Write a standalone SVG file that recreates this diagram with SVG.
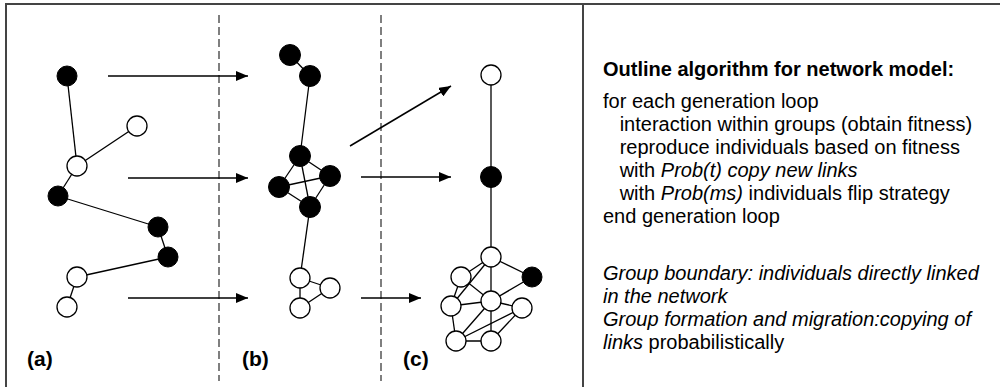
<svg xmlns="http://www.w3.org/2000/svg" width="1000" height="387" viewBox="0 0 1000 387">
<defs>
<marker id="ah" viewBox="0 0 12 10" refX="12" refY="5" markerWidth="12" markerHeight="10" markerUnits="userSpaceOnUse" orient="auto">
<path d="M0,0 L12,5 L0,10 Z" fill="#000"/>
</marker>
<style>
.frame{stroke:#444;stroke-width:2;fill:none}
.dash{stroke:#555;stroke-width:1.5;stroke-dasharray:8,4;fill:none}
.arr{stroke:#000;stroke-width:1.5;fill:none;marker-end:url(#ah)}
.e{stroke:#000;stroke-width:1.3;fill:none}
.b{fill:#000;stroke:#000;stroke-width:1}
.w{fill:#fff;stroke:#000;stroke-width:1.3}
.lab{font-family:"Liberation Sans",Arial,sans-serif;font-weight:bold;font-size:21px;fill:#000}
.t{font-family:"Liberation Sans",Arial,sans-serif;font-size:20px;fill:#000}
.tb{font-family:"Liberation Sans",Arial,sans-serif;font-size:20px;font-weight:bold;fill:#000}
</style>
</defs>
<rect width="1000" height="387" fill="#fff"/>
<g id="frame">
<path class="frame" d="M6,387 V4 H1000"/>
<line class="frame" x1="583" y1="4" x2="583" y2="387"/>
<line class="dash" x1="219" y1="15" x2="219" y2="381"/>
<line class="dash" x1="381" y1="15" x2="381" y2="381"/>
</g>
<g id="connectors">
<line class="e" x1="67" y1="76" x2="77" y2="166"/>
<line class="e" x1="137" y1="126" x2="77" y2="166"/>
<line class="e" x1="77" y1="166" x2="58" y2="196"/>
<line class="e" x1="58" y1="196" x2="158" y2="227"/>
<line class="e" x1="158" y1="227" x2="168" y2="257"/>
<line class="e" x1="168" y1="257" x2="77" y2="277"/>
<line class="e" x1="77" y1="277" x2="67" y2="307"/>
<line class="e" x1="290" y1="55" x2="310" y2="76"/>
<line class="e" x1="310" y1="76" x2="300" y2="156"/>
<line class="e" x1="300" y1="156" x2="330" y2="176"/>
<line class="e" x1="300" y1="156" x2="279" y2="187"/>
<line class="e" x1="300" y1="156" x2="310" y2="207"/>
<line class="e" x1="279" y1="187" x2="330" y2="176"/>
<line class="e" x1="279" y1="187" x2="310" y2="207"/>
<line class="e" x1="330" y1="176" x2="310" y2="207"/>
<line class="e" x1="310" y1="207" x2="300" y2="278"/>
<line class="e" x1="300" y1="278" x2="330" y2="288"/>
<line class="e" x1="300" y1="278" x2="300" y2="308"/>
<line class="e" x1="300" y1="308" x2="330" y2="288"/>
<line class="e" x1="491" y1="75" x2="491" y2="341"/>
<line class="e" x1="491" y1="257" x2="461" y2="277"/>
<line class="e" x1="491" y1="257" x2="532" y2="277"/>
<line class="e" x1="491" y1="257" x2="451" y2="306"/>
<line class="e" x1="461" y1="277" x2="451" y2="306"/>
<line class="e" x1="461" y1="277" x2="491" y2="301"/>
<line class="e" x1="532" y1="277" x2="491" y2="301"/>
<line class="e" x1="451" y1="306" x2="491" y2="301"/>
<line class="e" x1="451" y1="306" x2="456" y2="341"/>
<line class="e" x1="491" y1="301" x2="522" y2="308"/>
<line class="e" x1="491" y1="301" x2="456" y2="341"/>
<line class="e" x1="522" y1="308" x2="456" y2="341"/>
<line class="e" x1="522" y1="308" x2="491" y2="341"/>
<line class="e" x1="456" y1="341" x2="491" y2="341"/>
<line class="arr" x1="108" y1="76" x2="248" y2="76"/>
<line class="arr" x1="128" y1="178" x2="248" y2="178"/>
<line class="arr" x1="128" y1="298" x2="248" y2="298"/>
<line class="arr" x1="350" y1="146" x2="451" y2="86"/>
<line class="arr" x1="361" y1="177" x2="451" y2="177"/>
<line class="arr" x1="361" y1="298" x2="421" y2="298"/>
</g>
<g id="panel-a">
<circle id="a1" class="b" cx="67" cy="76" r="10"/>
<circle id="a2" class="w" cx="137" cy="126" r="10"/>
<circle id="a3" class="w" cx="77" cy="166" r="10"/>
<circle id="a4" class="b" cx="58" cy="196" r="10"/>
<circle id="a5" class="b" cx="158" cy="227" r="10"/>
<circle id="a6" class="b" cx="168" cy="257" r="10"/>
<circle id="a7" class="w" cx="77" cy="277" r="10"/>
<circle id="a8" class="w" cx="67" cy="307" r="10"/>
<text class="lab" x="27" y="366">(a)</text>
</g>
<g id="panel-b">
<circle id="b1" class="b" cx="290" cy="55" r="10.5"/>
<circle id="b2" class="b" cx="310" cy="76" r="10.5"/>
<circle id="b3" class="b" cx="300" cy="156" r="10.5"/>
<circle id="b4" class="b" cx="330" cy="176" r="10.5"/>
<circle id="b5" class="b" cx="279" cy="187" r="10.5"/>
<circle id="b6" class="b" cx="310" cy="207" r="10.5"/>
<circle id="b7" class="w" cx="300" cy="278" r="10"/>
<circle id="b8" class="w" cx="330" cy="288" r="10"/>
<circle id="b9" class="w" cx="300" cy="308" r="10"/>
<text class="lab" x="242" y="366">(b)</text>
</g>
<g id="panel-c">
<circle id="c1" class="w" cx="491" cy="75" r="10"/>
<circle id="c2" class="b" cx="491" cy="177" r="10.5"/>
<circle id="c3" class="w" cx="491" cy="257" r="10"/>
<circle id="c4" class="w" cx="461" cy="277" r="10"/>
<circle id="c5" class="b" cx="532" cy="277" r="10"/>
<circle id="c6" class="w" cx="451" cy="306" r="10"/>
<circle id="c7" class="w" cx="491" cy="301" r="10"/>
<circle id="c8" class="w" cx="522" cy="308" r="10"/>
<circle id="c9" class="w" cx="456" cy="341" r="10"/>
<circle id="c10" class="w" cx="491" cy="341" r="10"/>
<text class="lab" x="403" y="366">(c)</text>
</g>
<g id="algorithm">
<text class="tb" x="603" y="76">Outline algorithm for network model:</text>
<text class="t" x="603" y="108">for each generation loop</text>
<text class="t" x="603" y="131" xml:space="preserve">   interaction within groups (obtain fitness)</text>
<text class="t" x="603" y="154" xml:space="preserve">   reproduce individuals based on fitness</text>
<text class="t" x="603" y="177" xml:space="preserve">   with <tspan font-style="italic">Prob(t) copy new links</tspan></text>
<text class="t" x="603" y="200" xml:space="preserve">   with <tspan font-style="italic">Prob(ms)</tspan> individuals flip strategy</text>
<text class="t" x="603" y="223">end generation loop</text>
<text class="t" x="603" y="280" font-style="italic">Group boundary: individuals directly linked</text>
<text class="t" x="603" y="303" font-style="italic">in the network</text>
<text class="t" x="603" y="326" font-style="italic">Group formation and migration:copying of</text>
<text class="t" x="603" y="349"><tspan font-style="italic">links</tspan> probabilistically</text>
</g>
</svg>
